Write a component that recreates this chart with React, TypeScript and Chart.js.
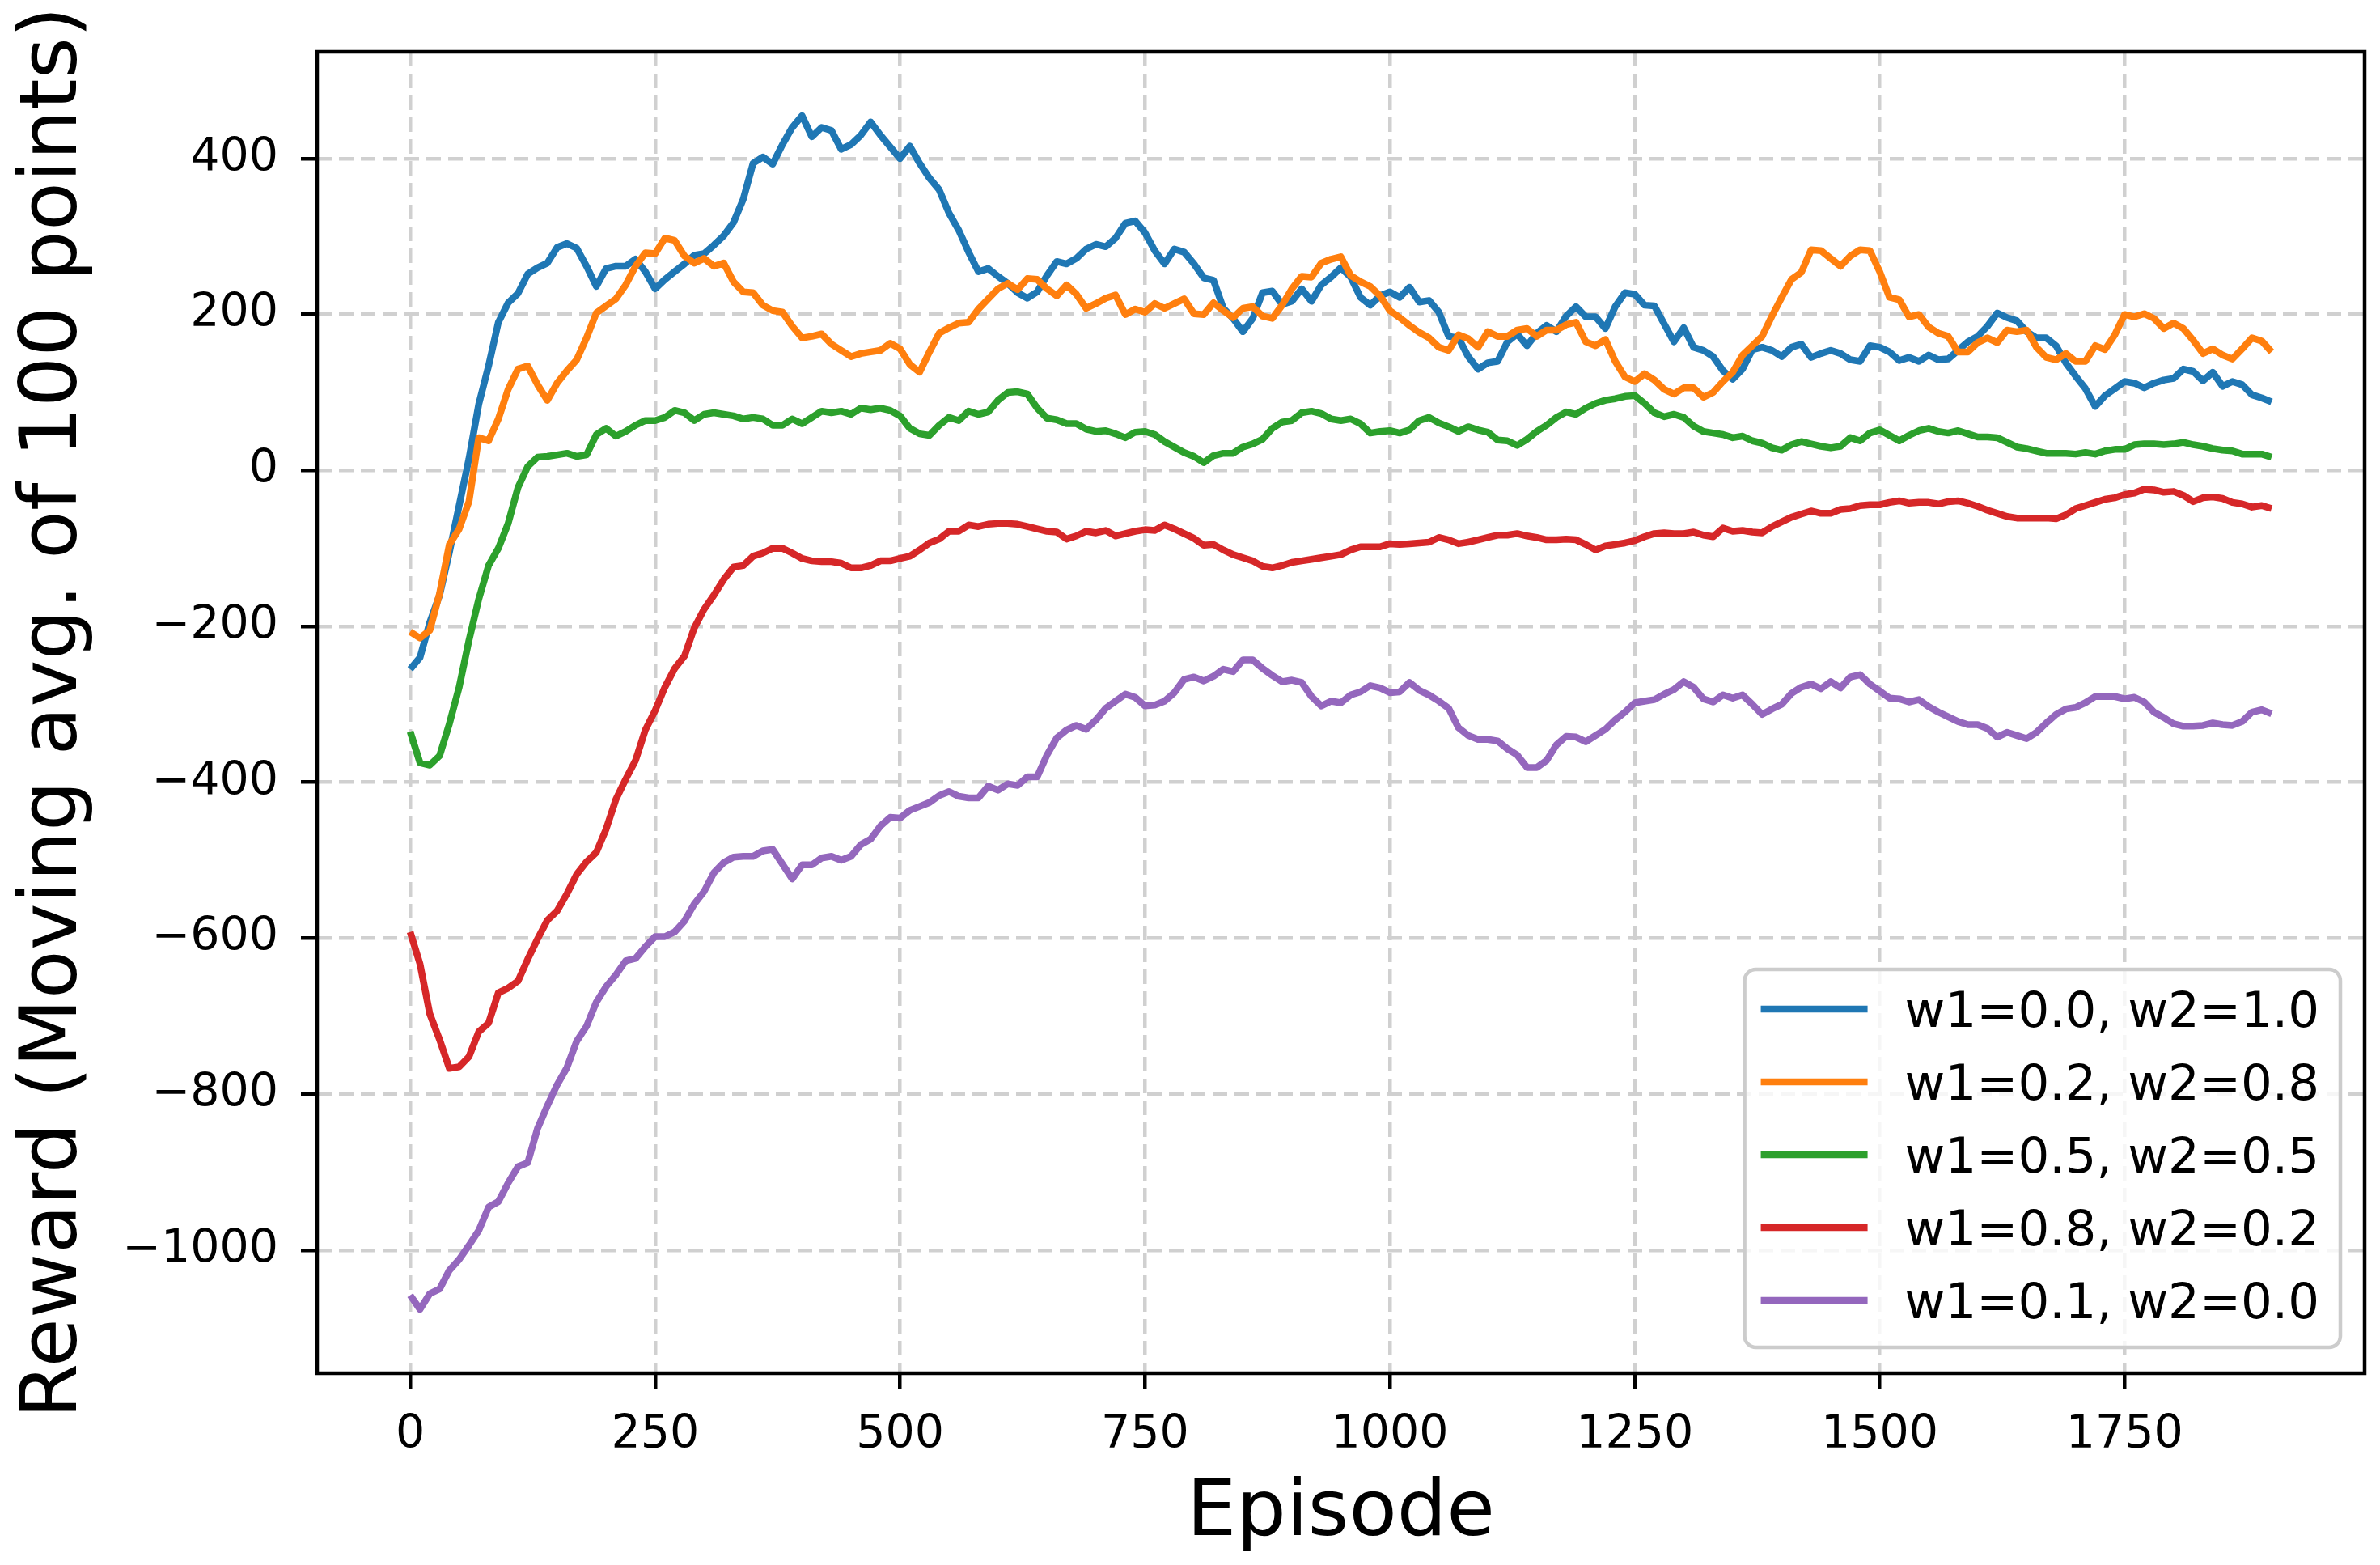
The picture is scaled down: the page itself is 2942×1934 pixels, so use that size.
import React, { useEffect, useRef } from 'react'
import { Chart, registerables } from 'chart.js'

Chart.register(...registerables)

// episodes sampled every 10 steps (0..1900)
const episodes = Array.from({ length: 191 }, (_, i) => i * 10)

const xTicks = [0, 250, 500, 750, 1000, 1250, 1500, 1750]
const yTicks = [-1000, -800, -600, -400, -200, 0, 200, 400]

const seriesLabels = [
  'w1=0.0, w2=1.0',
  'w1=0.2, w2=0.8',
  'w1=0.5, w2=0.5',
  'w1=0.8, w2=0.2',
  'w1=0.1, w2=0.0',
]
const seriesColors = ['#1f77b4', '#ff7f0e', '#2ca02c', '#d62728', '#9467bd']

const rewardW00 = [
  -255, -240, -195, -160, -105, -45, 15, 85, 134, 190,
  215, 227, 252, 260, 266, 286, 291, 285, 262, 236,
  259, 262, 262, 271, 255, 233, 245, 255, 265, 276,
  278, 289, 301, 318, 348, 394, 402, 393, 418, 440,
  455, 428, 440, 436, 412, 418, 430, 447, 430, 415,
  400, 416, 394, 375, 360, 330, 308, 280, 255, 259,
  249, 240, 228, 221, 229, 250, 268, 265, 272, 284,
  290, 287, 298, 317, 320, 305, 282, 265, 284, 280,
  265, 247, 244, 208, 195, 178, 195, 228, 230, 213,
  217, 233, 217, 238, 248, 260, 248, 222, 212, 224,
  229, 222, 235, 216, 218, 203, 172, 170, 146, 130,
  138, 140, 165, 175, 160, 176, 186, 178, 198, 210,
  197, 197, 182, 210, 228, 226, 212, 211, 188, 165,
  183, 158, 154, 146, 128, 117, 130, 155, 158, 154,
  146, 158, 162, 145, 150, 154, 150, 142, 140, 160,
  158, 152, 141, 145, 140, 148, 142, 143, 154, 165,
  172, 185, 202, 196, 192, 178, 170, 170, 160, 138,
  121, 105, 82, 96, 105, 114, 112, 106, 112, 116,
  118, 130, 127, 115, 126, 108, 114, 110, 97, 93,
  88,
]

const rewardW02 = [
  -207, -215, -205, -158, -95, -75, -40, 42, 38, 66,
  104, 130, 134, 110, 90, 112, 128, 142, 170, 202,
  211, 220, 238, 262, 279, 278, 298, 295, 275, 266,
  272, 262, 266, 242, 229, 228, 212, 205, 203, 185,
  170, 172, 175, 162, 154, 146, 150, 152, 154, 163,
  156, 136, 126, 152, 176, 183, 189, 190, 207, 220,
  233, 240, 232, 246, 245, 233, 224, 238, 226, 208,
  214, 221, 225, 200, 207, 203, 214, 208, 214, 220,
  201, 200, 215, 205, 196, 208, 210, 198, 195, 212,
  233, 249, 248, 266, 271, 274, 250, 242, 236, 224,
  205, 196, 186, 177, 170, 158, 154, 174, 169, 158,
  178, 172, 172, 180, 182, 172, 180, 180, 187, 190,
  165, 160, 168, 140, 120, 114, 124, 116, 104, 98,
  106, 106, 94, 100, 114, 126, 148, 160, 172, 198,
  222, 245, 254, 283, 282, 272, 262, 275, 283, 282,
  255, 222, 219, 197, 200, 184, 176, 172, 152, 152,
  164, 170, 164, 180, 178, 180, 158, 145, 142, 150,
  140, 140, 160, 155, 174, 200, 197, 201, 195, 182,
  189, 182, 167, 150, 156, 148, 143, 156, 170, 166,
  152,
]

const rewardW05 = [
  -335, -375, -378, -366, -325, -278, -218, -165, -122, -100,
  -68, -22, 5, 17, 18, 20, 22, 18, 20, 46,
  54, 44, 50, 58, 64, 64, 68, 77, 74, 64,
  72, 74, 72, 70, 66, 68, 66, 58, 58, 66,
  60, 68, 76, 74, 76, 72, 80, 78, 80, 77,
  70, 54, 47, 45, 58, 68, 64, 76, 72, 75,
  90, 100, 101, 98, 80, 67, 65, 60, 60, 53,
  50, 51, 47, 42, 49, 50, 46, 37, 30, 23,
  18, 10, 19, 22, 22, 30, 34, 40, 54, 62,
  64, 74, 76, 73, 66, 64, 66, 60, 48, 50,
  51, 48, 52, 64, 68, 61, 56, 50, 56, 52,
  49, 39, 38, 32, 40, 50, 58, 68, 75, 72,
  80, 86, 90, 92, 95, 96, 86, 74, 69, 72,
  68, 57, 50, 48, 46, 42, 44, 38, 35, 29,
  26, 33, 37, 34, 31, 29, 31, 42, 38, 48,
  52, 45, 38, 45, 51, 54, 50, 48, 51, 47,
  43, 43, 42, 36, 30, 28, 25, 22, 22, 22,
  21, 23, 21, 25, 27, 27, 33, 34, 34, 33,
  34, 36, 33, 31, 28, 26, 25, 21, 21, 21,
  17,
]

const rewardW08 = [
  -592, -633, -697, -730, -767, -765, -752, -720, -709, -670,
  -664, -655, -627, -601, -577, -565, -543, -518, -502, -490,
  -460, -422, -396, -372, -333, -308, -278, -254, -238, -202,
  -178, -160, -140, -124, -122, -110, -106, -100, -100, -106,
  -113, -116, -117, -117, -119, -125, -125, -122, -116, -116,
  -113, -110, -102, -93, -88, -78, -78, -70, -72, -69,
  -68, -68, -69, -72, -75, -78, -79, -88, -84, -78,
  -80, -77, -84, -81, -78, -76, -77, -70, -75, -81,
  -87, -96, -95, -102, -108, -112, -116, -123, -125, -122,
  -118, -116, -114, -112, -110, -108, -102, -98, -98, -98,
  -94, -95, -94, -93, -92, -86, -89, -94, -92, -89,
  -86, -83, -83, -81, -84, -86, -89, -89, -88, -89,
  -95, -102, -97, -95, -93, -90, -85, -81, -80, -81,
  -81, -79, -83, -85, -74, -78, -77, -79, -80, -72,
  -66, -60, -56, -52, -55, -55, -50, -49, -45, -44,
  -44, -41, -39, -42, -41, -41, -43, -40, -39, -42,
  -46, -51, -55, -59, -61, -61, -61, -61, -62, -57,
  -49, -45, -41, -37, -35, -31, -29, -24, -25, -28,
  -27, -32, -40, -35, -34, -36, -41, -43, -47, -45,
  -49,
]

const rewardW01 = [
  -1058, -1076, -1056, -1050, -1026, -1012, -994, -975, -945, -938,
  -914, -893, -888, -844, -815, -788, -766, -732, -713, -682,
  -662, -647, -629, -626, -611, -598, -598, -592, -578, -556,
  -540, -516, -503, -496, -495, -495, -488, -486, -505, -524,
  -506, -506, -497, -495, -500, -495, -480, -473, -456, -445,
  -446, -436, -431, -426, -417, -412, -418, -420, -420, -405,
  -410, -402, -404, -393, -393, -365, -343, -333, -327, -332,
  -320, -305, -296, -287, -291, -302, -301, -296, -285, -268,
  -265, -270, -264, -255, -258, -243, -243, -254, -263, -271,
  -269, -272, -290, -302, -296, -298, -288, -284, -276, -279,
  -285, -284, -272, -282, -288, -296, -305, -330, -340, -345,
  -345, -347, -357, -365, -381, -381, -372, -352, -341, -342,
  -348, -340, -332, -320, -310, -298, -296, -294, -287, -281,
  -271, -278, -293, -297, -288, -292, -288, -300, -313, -306,
  -300, -286, -278, -274, -280, -271, -279, -265, -262, -274,
  -283, -292, -293, -297, -294, -303, -310, -316, -322, -326,
  -326, -331, -342, -336, -340, -344, -336, -324, -313, -306,
  -304, -298, -290, -290, -290, -293, -291, -297, -310, -317,
  -325, -328, -328, -327, -324, -326, -327, -322, -310, -307,
  -312,
]

const seriesValues = [rewardW00, rewardW02, rewardW05, rewardW08, rewardW01]

const FONT = 'DejaVu Sans'
const fmtTick = (v: number) => (v < 0 ? '\u2212' + Math.abs(v) : String(v))

// draws the matplotlib-style legend box and the four-sided axes frame
const framePlugin = {
  id: 'frameAndLegend',
  afterDatasetsDraw(chart: any) {
    const { ctx, chartArea: a } = chart
    ctx.save()
    ctx.font = `61px "${FONT}"`
    const textW = Math.max(...seriesLabels.map(l => ctx.measureText(l).width))
    const boxW = 20 + 132 + 46 + textW + 26
    const boxH = 467
    const bx = a.right - 30 - boxW
    const by = a.bottom - 32 - boxH
    ctx.beginPath()
    ctx.roundRect(bx, by, boxW, boxH, 14)
    ctx.fillStyle = 'rgba(255,255,255,0.8)'
    ctx.fill()
    ctx.lineWidth = 4.5
    ctx.strokeStyle = '#cccccc'
    ctx.stroke()
    chart.data.datasets.forEach((ds: any, i: number) => {
      const y = by + 49 + i * 90
      ctx.beginPath()
      ctx.moveTo(bx + 20, y)
      ctx.lineTo(bx + 152, y)
      ctx.strokeStyle = ds.borderColor
      ctx.lineWidth = 8.5
      ctx.stroke()
      ctx.fillStyle = '#000'
      ctx.textBaseline = 'alphabetic'
      ctx.textAlign = 'left'
      ctx.fillText(ds.label, bx + 198, y + 22)
    })
    ctx.restore()
  },
  afterDraw(chart: any) {
    const { ctx, chartArea: a } = chart
    ctx.save()
    ctx.lineWidth = 4.5
    ctx.strokeStyle = '#000'
    ctx.strokeRect(a.left, a.top, a.right - a.left, a.bottom - a.top)
    ctx.restore()
  },
}

export default function App() {
  const canvasRef = useRef<HTMLCanvasElement>(null)
  const chartRef = useRef<Chart | null>(null)

  useEffect(() => {
    if (!canvasRef.current) return
    chartRef.current?.destroy()

    const gridOpts = {
      color: '#d0d0d0',
      lineWidth: 4.5,
      drawTicks: true,
      tickLength: 20,
      tickWidth: 4.5,
      tickColor: '#000',
    }

    chartRef.current = new Chart(canvasRef.current, {
      type: 'line',
      data: {
        datasets: seriesValues.map((vals, i) => ({
          label: seriesLabels[i],
          data: episodes.map((e, j) => ({ x: e, y: vals[j] })),
          borderColor: seriesColors[i],
          backgroundColor: seriesColors[i],
          borderWidth: 8.5,
          pointRadius: 0,
          tension: 0,
          fill: false,
          borderJoinStyle: 'round',
          order: seriesValues.length - 1 - i,
        })),
      },
      options: {
        animation: false,
        responsive: true,
        maintainAspectRatio: false,
        layout: { padding: { top: 64, right: 19, left: 0, bottom: 0 } },
        plugins: {
          legend: { display: false },
          tooltip: { enabled: false },
        },
        scales: {
          x: {
            type: 'linear',
            min: -95,
            max: 1995,
            afterBuildTicks: (scale: any) => {
              scale.ticks = xTicks.map(v => ({ value: v }))
            },
            afterFit: (scale: any) => {
              scale.height = 237
            },
            grid: gridOpts,
            border: { display: false, dash: [18, 9] },
            ticks: {
              autoSkip: false,
              maxRotation: 0,
              padding: 23,
              color: '#000',
              font: { family: FONT, size: 57 },
              callback: (v: any) => fmtTick(Number(v)),
            },
            title: {
              display: true,
              text: 'Episode',
              color: '#000',
              font: { family: FONT, size: 97 },
              padding: { top: 0, bottom: 4 },
            },
          },
          y: {
            type: 'linear',
            min: -1158,
            max: 537,
            afterBuildTicks: (scale: any) => {
              scale.ticks = yTicks.map(v => ({ value: v }))
            },
            afterFit: (scale: any) => {
              scale.width = 392
            },
            grid: gridOpts,
            border: { display: false, dash: [18, 9] },
            ticks: {
              autoSkip: false,
              padding: 28,
              color: '#000',
              font: { family: FONT, size: 57 },
              callback: (v: any) => fmtTick(Number(v)),
            },
            title: {
              display: true,
              text: 'Reward (Moving avg. of 100 points)',
              color: '#000',
              font: { family: FONT, size: 98 },
              padding: { top: 10, bottom: 0 },
            },
          },
        },
      },
      plugins: [framePlugin],
    } as any)

    return () => {
      chartRef.current?.destroy()
      chartRef.current = null
    }
  }, [])

  return (
    <div style={{ position: 'fixed', left: 0, top: 0, width: 2942, height: 1934, background: '#fff' }}>
      <canvas ref={canvasRef} />
    </div>
  )
}
